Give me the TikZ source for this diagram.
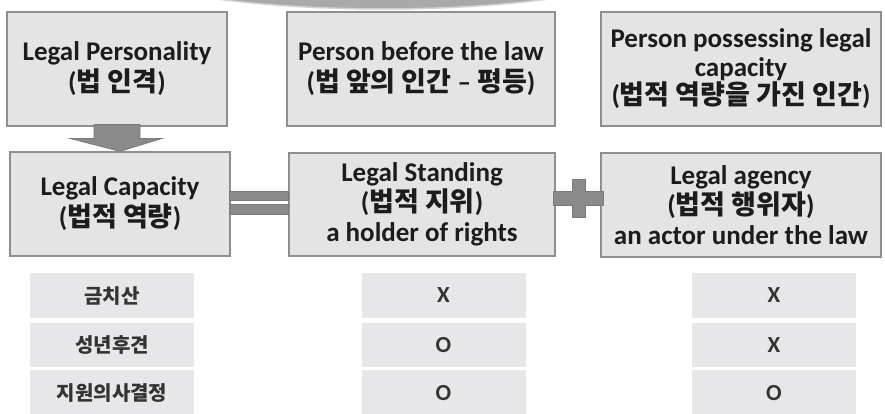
\documentclass[tikz,border=0pt]{standalone}
\usepackage{fontspec}
\setmainfont{Carlito}
\newfontfamily\kr{Noto Sans CJK KR}
\usetikzlibrary{calc}
\definecolor{boxfill}{HTML}{E4E4E5}
\definecolor{boxline}{HTML}{8E8E8E}
\definecolor{cellfill}{HTML}{E7E7E9}
\definecolor{symfill}{HTML}{8A8A8A}
\definecolor{symline}{HTML}{7A7A7A}
\definecolor{arcfill}{HTML}{A9A9A9}
\definecolor{txt}{HTML}{1C1C1C}
\tikzset{
  box/.style={draw=boxline, fill=boxfill, line width=1.1pt, inner sep=0pt, align=center,
    text=txt, font=\fontsize{27}{31}\selectfont\bfseries},
  cell/.style={fill=cellfill, inner sep=0pt, minimum width=164pt, text=txt!90},
  krcell/.style={cell, font=\kr\fontsize{20}{21}\selectfont\bfseries},
  markcell/.style={cell, font=\fontsize{23}{24}\selectfont\bfseries},
  sym/.style={fill=symfill, draw=symline, line width=0.6pt}
}
\begin{document}
\begin{tikzpicture}[x=1pt,y=-1pt]
\useasboundingbox (0,0) rectangle (885,414);
% top arc
\fill[arcfill, draw=gray!35, line width=1.5pt] (383,-51) ellipse [x radius=300, y radius=60];
% top row
\node[box, minimum width=220pt, minimum height=114pt] (p1) at (117,69)
  {Legal Personality\\({\kr 법 인격})};
\node[box, minimum width=268pt, minimum height=114pt] (p2) at (421,69)
  {Person before the law\\({\kr 법 앞의 인간} – {\kr 평등})};
\node[box, minimum width=280pt, minimum height=114pt, font=\fontsize{27}{28.5}\selectfont\bfseries] (p3) at (741,69)
  {Person possessing legal\\capacity\\({\kr 법적 역량을 가진 인간})};
% second row
\node[box, minimum width=220pt, minimum height=104pt] (c1) at (120,204)
  {Legal Capacity\\({\kr 법적 역량})};
\node[box, minimum width=266pt, minimum height=103pt, font=\fontsize{27}{30}\selectfont\bfseries] (c2) at (422,204.5)
  {Legal Standing\\({\kr 법적 지위})\\a holder of rights};
\node[box, minimum width=280pt, minimum height=104pt, font=\fontsize{27}{30}\selectfont\bfseries] (c3) at (741,205)
  {Legal agency\\({\kr 법적 행위자})\\an actor under the law};
% down arrow
\filldraw[sym] ($(p1.south)+(-23,-2)$) -- ($(p1.south)+(23,-2)$) -- ($(p1.south)+(23,12)$)
  -- ($(p1.south)+(45,12)$) -- (c1.north) -- ($(p1.south)+(-47,12)$)
  -- ($(p1.south)+(-23,12)$) -- cycle;
% equals sign
\coordinate (e1) at ($(c1.east)+(-1,-13)$);
\coordinate (e2) at ($(c1.east)+(-1,0)$);
\filldraw[sym] (e1) rectangle ($(c2.west |- e1)+(0,9)$);
\filldraw[sym] (e2) rectangle ($(c2.west |- e2)+(0,10)$);
% plus sign
\coordinate (pc) at ($(c2.east)!0.5!(c3.west)+(0,-6)$);
\filldraw[sym] ($(pc)+(-25,-7)$) -- ($(pc)+(-6,-7)$) -- ($(pc)+(-6,-19)$) -- ($(pc)+(7,-19)$)
  -- ($(pc)+(7,-7)$) -- ($(pc)+(25,-7)$) -- ($(pc)+(25,7)$) -- ($(pc)+(7,7)$)
  -- ($(pc)+(7,19)$) -- ($(pc)+(-6,19)$) -- ($(pc)+(-6,7)$) -- ($(pc)+(-25,7)$) -- cycle;
% table
\node[krcell, minimum height=45pt] (t11) at (112,295.5) {금치산};
\node[krcell, minimum height=44pt] (t21) at (112,345) {성년후견};
\node[krcell, minimum height=46pt] (t31) at (112,393) {지원의사결정};
\node[markcell, minimum height=45pt] (t12) at (443.5,295.5) {X};
\node[markcell, minimum height=44pt] (t22) at (443.5,345) {O};
\node[markcell, minimum height=46pt] (t32) at (443.5,393) {O};
\node[markcell, minimum height=45pt] (t13) at (774,295.5) {X};
\node[markcell, minimum height=44pt] (t23) at (774,345) {X};
\node[markcell, minimum height=46pt] (t33) at (774,393) {O};
\end{tikzpicture}
\end{document}
